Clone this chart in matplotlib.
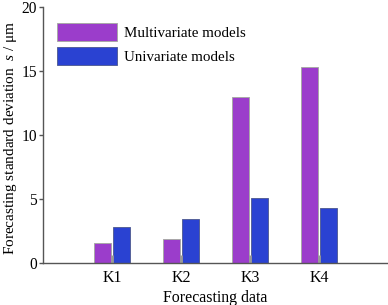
import numpy as np
import matplotlib
matplotlib.use("Agg")
import matplotlib.pyplot as plt

## data
categories = ["K1", "K2", "K3", "K4"]
multivariate = [1.50, 1.84, 12.94, 15.33]
univariate = [2.78, 3.38, 5.07, 4.29]

plt.rcParams.update({
    "font.family": "Liberation Serif",
    "font.size": 10.8,
    "mathtext.fontset": "custom",
    "mathtext.rm": "Liberation Serif",
    "mathtext.it": "Liberation Serif:italic",
})

fig = plt.figure(figsize=(3.88, 3.05), dpi=100)
ax = fig.add_axes([0.111, 0.139, 0.889, 0.838])

x = np.arange(1, len(categories) + 1)
w = 0.246
gap = 0.015

ax.bar(x - w / 2 - gap, multivariate, w, color="#9b3dcb", edgecolor="#a8a8a8",
       linewidth=0.7, label="Multivariate models")
ax.bar(x + w / 2 + gap, univariate, w, color="#2a42d2", edgecolor="#56629a",
       linewidth=0.7, label="Univariate models")

ax.set_xlim(0, 5)
ax.set_ylim(0, 20)
ax.set_yticks([0, 5, 10, 15, 20])
ax.set_xticks(x)
ax.set_xticklabels(categories, fontsize=11.5)
ax.tick_params(axis="y", labelsize=11.2)

ax.spines["top"].set_visible(False)
ax.spines["right"].set_visible(False)
for s in ("left", "bottom"):
    ax.spines[s].set_color("#555555")
    ax.spines[s].set_linewidth(1.0)

ax.tick_params(axis="y", direction="out", length=3, width=1, color="#555555", pad=1.5)
ax.tick_params(axis="x", direction="in", length=6, width=2, color="#999999", pad=5)

fig.text(0.027, 0.549, r"Forecasting standard deviation  $s$ / μm", rotation=90,
         ha="center", va="center", fontsize=11)
ax.set_xlabel("Forecasting data", fontsize=11.4, labelpad=3)

ax.legend(loc="upper left", bbox_to_anchor=(0.041, 0.937), frameon=False,
          handlelength=4.0, handleheight=1.5, handletextpad=0.45,
          labelspacing=0.35, borderaxespad=0, borderpad=0)

fig.savefig("out.png", dpi=100)
